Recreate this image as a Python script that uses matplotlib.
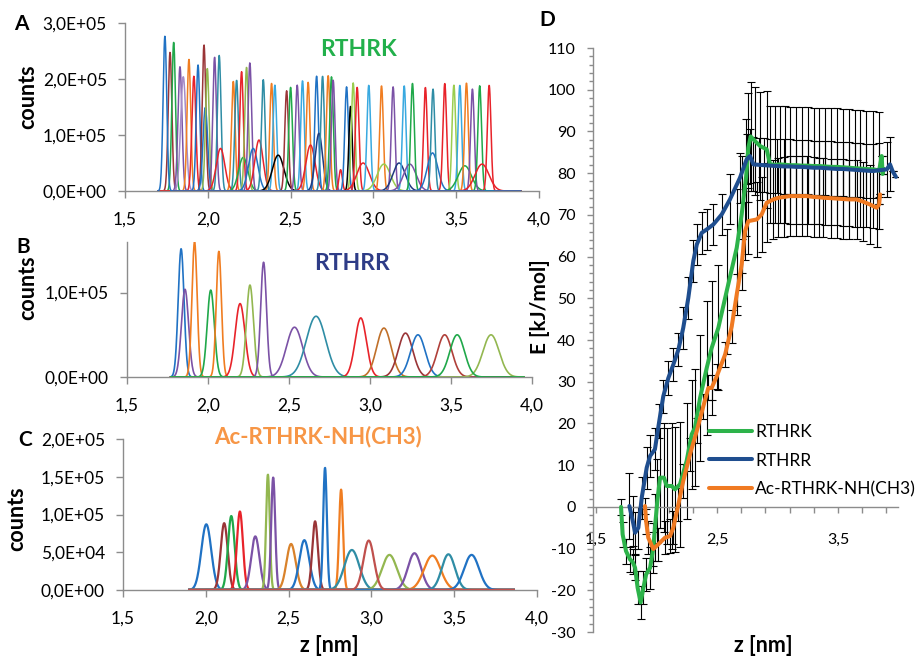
import numpy as np
import matplotlib
matplotlib.use('Agg')
import matplotlib.pyplot as plt
from matplotlib.ticker import FixedLocator

plt.rcParams['font.family'] = ['Lato', 'DejaVu Sans']

# ---------------- colours ----------------
BLUE = '#2072C4'; ORANGE = '#F07D21'; GREEN = '#20A84A'; RED = '#E8232A'
PURPLE = '#7B52A6'; BROWN = '#9A3537'; OLIVE = '#93B750'; TEAL = '#2F8DA5'
LBLUE = '#39A9E0'; NAVY = '#1F3A80'; BLACK = '#000000'; LGREEN = '#9ACD4F'
LILAC = '#A68BC8'; REDB = '#C0504D'

# ---------------- panel A data (RTHRK umbrella histograms) ----------------
A_centers = [1.741, 1.772, 1.794, 1.832, 1.852, 1.886, 1.916, 1.941, 1.977, 1.985,
             1.997, 2.041, 2.069, 2.077, 2.154, 2.174, 2.204, 2.214, 2.234, 2.254,
             2.274, 2.309, 2.335, 2.385, 2.405, 2.425, 2.476, 2.500, 2.540, 2.572,
             2.606, 2.620, 2.657, 2.671, 2.693, 2.727, 2.747, 2.757, 2.802, 2.838,
             2.862, 2.878, 2.902, 2.938, 2.972, 3.049, 3.063, 3.119, 3.155, 3.186,
             3.220, 3.236, 3.314, 3.357, 3.360, 3.431, 3.486, 3.522, 3.552, 3.562,
             3.598, 3.642, 3.656, 3.699]
A_heights = [2.77e5, 2.48e5, 2.66e5, 2.22e5, 2.04e5, 2.35e5, 2.05e5, 2.25e5, 2.61e5, 1.49e5,
             2.19e5, 2.39e5, 2.42e5, 0.76e5, 1.96e5, 1.98e5, 2.13e5, 0.60e5, 2.21e5, 2.29e5,
             0.76e5, 0.91e5, 1.99e5, 1.92e5, 1.89e5, 0.64e5, 1.79e5, 1.85e5, 1.89e5, 1.97e5,
             1.94e5, 0.82e5, 2.05e5, 1.03e5, 2.05e5, 2.06e5, 2.04e5, 1.98e5, 0.38e5, 1.86e5,
             1.51e5, 1.93e5, 1.85e5, 0.50e5, 1.89e5, 1.88e5, 0.48e5, 1.86e5, 0.50e5, 1.88e5,
             0.48e5, 1.92e5, 1.85e5, 0.68e5, 1.82e5, 1.92e5, 1.89e5, 1.89e5, 0.45e5, 1.93e5,
             1.82e5, 1.88e5, 0.48e5, 1.89e5]
A_widths = [0.011, 0.011, 0.011, 0.012, 0.016, 0.011, 0.012, 0.011, 0.011, 0.014,
            0.011, 0.011, 0.011, 0.026, 0.011, 0.011, 0.011, 0.028, 0.011, 0.011,
            0.028, 0.025, 0.011, 0.011, 0.011, 0.035, 0.011, 0.011, 0.011, 0.011,
            0.011, 0.028, 0.011, 0.022, 0.011, 0.011, 0.011, 0.011, 0.010, 0.011,
            0.010, 0.011, 0.011, 0.038, 0.011, 0.011, 0.040, 0.011, 0.037, 0.011,
            0.038, 0.011, 0.011, 0.032, 0.011, 0.011, 0.011, 0.011, 0.040, 0.011,
            0.011, 0.011, 0.042, 0.011]
A_colors = [BLUE, BROWN, GREEN, PURPLE, LILAC, ORANGE, RED, BLUE, BROWN, BLUE,
            OLIVE, PURPLE, TEAL, RED, ORANGE, TEAL, RED, GREEN, OLIVE, PURPLE,
            BLUE, RED, TEAL, ORANGE, LBLUE, BLACK, BROWN, GREEN, PURPLE, LBLUE,
            ORANGE, RED, BLUE, NAVY, TEAL, ORANGE, GREEN, PURPLE, RED, BLUE,
            BLACK, LGREEN, RED, RED, LBLUE, ORANGE, LGREEN, PURPLE, NAVY, LBLUE,
            PURPLE, GREEN, RED, BLUE, TEAL, RED, LGREEN, LBLUE, GREEN, ORANGE,
            PURPLE, GREEN, RED, RED]
A_range = (1.70, 3.89)

# ---------------- panel B data (RTHRR) ----------------
B_centers = [1.834, 1.858, 1.917, 2.017, 2.067, 2.198, 2.259, 2.343, 2.534, 2.667,
             2.943, 3.086, 3.219, 3.296, 3.461, 3.747, 3.538]
B_heights = [1.52e5, 1.04e5, 1.60e5, 1.03e5, 1.49e5, 0.87e5, 1.09e5, 1.36e5, 0.59e5, 0.72e5,
             0.70e5, 0.58e5, 0.52e5, 0.50e5, 0.50e5, 0.50e5, 0.50e5]
B_widths = [0.018, 0.022, 0.016, 0.022, 0.016, 0.030, 0.022, 0.018, 0.050, 0.060,
            0.035, 0.045, 0.045, 0.045, 0.045, 0.050, 0.045]
B_colors = [BLUE, PURPLE, ORANGE, GREEN, ORANGE, RED, OLIVE, PURPLE, PURPLE, TEAL,
            RED, '#C0702A', BROWN, BLUE, '#B0403A', OLIVE, GREEN]
B_range = (1.77, 3.95)

# ---------------- panel C data (Ac-RTHRK-NH(CH3)) ----------------
C_centers = [2.003, 2.111, 2.154, 2.206, 2.299, 2.375, 2.407, 2.515, 2.595, 2.660,
             2.720, 2.817, 2.882, 3.109, 3.260, 3.368, 3.465, 3.605, 2.984]
C_heights = [0.87e5, 0.885e5, 0.98e5, 1.04e5, 0.71e5, 1.53e5, 1.49e5, 0.61e5, 0.66e5, 0.91e5,
             1.62e5, 1.33e5, 0.53e5, 0.465e5, 0.487e5, 0.456e5, 0.473e5, 0.465e5, 0.655e5]
C_widths = [0.030, 0.021, 0.020, 0.018, 0.025, 0.011, 0.012, 0.028, 0.030, 0.017,
            0.011, 0.012, 0.045, 0.045, 0.040, 0.050, 0.040, 0.045, 0.032]
C_colors = [BLUE, BROWN, GREEN, RED, PURPLE, OLIVE, PURPLE, '#D9822B', BLUE, BROWN,
            BLUE, ORANGE, TEAL, OLIVE, PURPLE, ORANGE, TEAL, BLUE, REDB]
C_range = (1.90, 3.86)

# ---------------- panel D data (free energy profiles) ----------------
rthrk_z = [1.707, 1.720, 1.748, 1.781, 1.803, 1.823, 1.844, 1.869, 1.892, 1.914,
           1.947, 1.974, 1.987, 2.007, 2.029, 2.062, 2.084, 2.126, 2.153, 2.194,
           2.249, 2.291, 2.318, 2.360, 2.415, 2.456, 2.511, 2.580, 2.663, 2.704,
           2.740, 2.759, 2.778, 2.814, 2.856, 2.911, 2.938, 2.979, 3.021, 3.066,
           3.105, 3.154, 3.202, 3.250, 3.299, 3.347, 3.395, 3.444, 3.492, 3.540,
           3.589, 3.637, 3.685, 3.734, 3.792, 3.840, 3.861, 3.869, 3.879]
rthrk_E = [0.0, -6.6, -10.6, -12.6, -13.2, -14.6, -19.4, -22.9, -19.4, -16.2,
           -14.6, -9.8, -5.0, 1.4, 7.0, 7.0, 5.0, 5.0, 4.2, 5.4,
           11.0, 17.4, 19.0, 26.1, 33.3, 38.1, 42.9, 51.7, 62.1, 70.1,
           78.9, 86.1, 88.8, 87.7, 86.5, 85.7, 82.1, 82.0, 82.1, 82.0,
           81.9, 81.9, 81.8, 81.8, 81.7, 81.7, 81.6, 81.5, 81.5, 81.4,
           81.3, 81.2, 81.1, 81.0, 80.9, 80.6, 84.1, 79.8, 81.0]
rthrk_err = [2, 3, 3, 3, 3, 3, 4, 4, 4, 4,
             5, 6, 8, 10, 12, 13, 14, 15, 15, 15,
             14, 13, 14, 15, 16, 16, 15, 15, 14, 14,
             14, 13, 13, 13, 13, 14, 14, 14, 14, 14,
             14, 14, 14, 14, 14, 14, 14, 14, 14, 14,
             14, 14, 14, 14, 14, 14, 0, 0, 0]

rthrr_z = [1.776, 1.804, 1.823, 1.850, 1.878, 1.919, 1.947, 1.987, 2.023, 2.056,
           2.098, 2.139, 2.181, 2.221, 2.263, 2.304, 2.333, 2.374, 2.415, 2.470,
           2.539, 2.607, 2.690, 2.745, 2.773, 2.801, 2.844, 2.892, 2.941, 2.999,
           3.057, 3.105, 3.154, 3.202, 3.250, 3.299, 3.347, 3.395, 3.444, 3.492,
           3.540, 3.589, 3.637, 3.685, 3.734, 3.792, 3.840, 3.903, 3.930, 3.951, 3.979]
rthrr_E = [0.2, -3.4, -6.2, -5.0, 2.2, 9.4, 12.2, 13.8, 20.6, 26.5,
           30.9, 34.1, 37.7, 42.9, 50.1, 58.9, 62.9, 65.7, 66.5, 67.7,
           70.1, 73.7, 78.9, 83.3, 84.1, 82.1, 82.0, 81.9, 81.8, 81.7,
           81.6, 81.6, 81.5, 81.5, 81.4, 81.3, 81.3, 81.2, 81.1, 81.0,
           81.0, 80.9, 80.8, 80.7, 80.6, 80.5, 80.7, 80.9, 82.1, 80.5, 79.1]
rthrr_err = [8, 6, 5, 5, 5, 5, 5, 5, 4, 4,
             4, 4, 4, 5, 5, 5, 5, 5, 5, 5,
             5, 6, 6, 6, 6.5, 6.5, 6.5, 6.5, 6.5, 6.5,
             6.5, 6.5, 6.5, 6.5, 6.5, 6.5, 6.5, 6.5, 6.5, 6.5,
             6.5, 6.5, 6.5, 6.5, 6.5, 6.5, 6.5, 6.5, 6.5, 0, 0]

ac_z = [1.905, 1.914, 1.932, 1.974, 2.014, 2.070, 2.112, 2.139, 2.181, 2.221,
        2.277, 2.333, 2.387, 2.428, 2.456, 2.498, 2.567, 2.622, 2.663, 2.704,
        2.732, 2.759, 2.829, 2.869, 2.911, 2.966, 3.008, 3.057, 3.103, 3.154,
        3.202, 3.241, 3.299, 3.347, 3.379, 3.444, 3.492, 3.540, 3.589, 3.654,
        3.705, 3.763, 3.820, 3.840, 3.848]
ac_E = [0.2, -3.4, -7.4, -10.1, -9.0, -7.4, -7.0, -5.0, 0.6, 6.2,
        12.6, 18.2, 24.1, 28.5, 28.5, 31.3, 36.5, 43.3, 50.9, 58.1,
        66.1, 68.5, 68.9, 70.1, 72.9, 73.7, 74.1, 74.3, 74.5, 74.5,
        74.5, 74.5, 74.3, 74.2, 74.1, 74.0, 73.9, 73.8, 73.7, 73.7,
        73.2, 72.5, 71.7, 72.5, 74.9]
ac_err = [2, 3, 4, 4, 4, 4, 4, 4, 4, 4,
          4, 3, 3, 3, 3, 3, 3, 4, 5, 6,
          7, 8, 9, 9, 9.5, 9.5, 9.5, 9.5, 9.5, 9.5,
          9.5, 9.5, 9.5, 9.5, 9.5, 9.5, 9.5, 9.5, 9.5, 9.5,
          9.5, 9.5, 9.5, 0, 0]

D_names = ['RTHRK', 'RTHRR', 'Ac-RTHRK-NH(CH3)']
D_colors = ['#2DB34A', '#1F4E8F', '#F07A22']

# ---------------- tick labels ----------------
hist_xticks = [1.5, 2.0, 2.5, 3.0, 3.5, 4.0]
hist_xlabels = ['1,5', '2,0', '2,5', '3,0', '3,5', '4,0']
A_yticks = [0, 1e5, 2e5, 3e5]
A_ylabels = ['0,0E+00', '1,0E+05', '2,0E+05', '3,0E+05']
B_yticks = [0, 1e5]
B_ylabels = ['0,0E+00', '1,0E+05']
C_yticks = [0, 5e4, 1e5, 1.5e5, 2e5]
C_ylabels = ['0,0E+00', '5,0E+04', '1,0E+05', '1,5E+05', '2,0E+05']
D_yticks = list(range(-30, 111, 10))
D_ylabels = [str(v) for v in D_yticks]
D_xticks = [1.5, 2.5, 3.5]
D_xlabels = ['1,5', '2,5', '3,5']
D_xminor = [1.7, 1.9, 2.1, 2.3, 2.7, 2.9, 3.1, 3.3, 3.7, 3.9]

# ---------------- figure ----------------
W, H = 919, 662
fig = plt.figure(figsize=(W / 100, H / 100), dpi=100)
GREY = '#8C8C8C'
TFS = 12.5


def add_ax(l, t, r, b):
    return fig.add_axes([l / W, 1 - b / H, (r - l) / W, (b - t) / H])


def style(ax):
    for s in ('top', 'right'):
        ax.spines[s].set_visible(False)
    for s in ('left', 'bottom'):
        ax.spines[s].set_color(GREY)
        ax.spines[s].set_linewidth(1.0)
    ax.tick_params(colors=GREY, labelcolor='black', labelsize=TFS, length=5, width=1.0)
    ax.patch.set_alpha(0)


def hist_panel(ax, centers, heights, widths, colors, zr, lw):
    z = np.linspace(zr[0], zr[1], 1200)
    n = len(centers)
    for i, (c, h, w, col) in enumerate(zip(centers, heights, widths, colors)):
        y = h * np.exp(-0.5 * ((z - c) / w) ** 2)
        ax.plot(z, y, color=col, lw=lw, zorder=2 + (i == n - 1) * 5)
    ax.set_xlim(1.5, 4.0)
    ax.xaxis.set_major_locator(FixedLocator(hist_xticks))
    ax.set_xticklabels(hist_xlabels)
    style(ax)
    ax.tick_params(axis='x', pad=10)
    ax.tick_params(axis='y', pad=8)


# Panel A
axA = add_ax(125, 23, 539, 191)
orderA = list(range(1, len(A_centers))) + [0]
hist_panel(axA, [A_centers[i] for i in orderA], [A_heights[i] for i in orderA],
           [A_widths[i] for i in orderA], [A_colors[i] for i in orderA], A_range, 1.1)
axA.set_ylim(0, 3e5)
axA.yaxis.set_major_locator(FixedLocator(A_yticks))
axA.set_yticklabels(A_ylabels)

# Panel B
axB = add_ax(127, 242, 532, 377)
hist_panel(axB, B_centers, B_heights, B_widths, B_colors, B_range, 1.2)
axB.set_ylim(0, 1.6e5)
axB.yaxis.set_major_locator(FixedLocator(B_yticks))
axB.set_yticklabels(B_ylabels)

# Panel C
axC = add_ax(123, 439, 537, 590)
hist_panel(axC, C_centers, C_heights, C_widths, C_colors, C_range, 1.6)
axC.set_ylim(0, 2e5)
axC.yaxis.set_major_locator(FixedLocator(C_yticks))
axC.set_yticklabels(C_ylabels)

# Panel D
axD = add_ax(593, 48, 898, 632)
series = [(rthrk_z, rthrk_E, rthrk_err), (rthrr_z, rthrr_E, rthrr_err), (ac_z, ac_E, ac_err)]
for (zz, ee, er) in series:
    axD.errorbar(zz, ee, yerr=er, fmt='none', ecolor='black', elinewidth=0.8,
                 capsize=2.6, capthick=0.8, zorder=2)
for (zz, ee, er), name, col in zip(series, D_names, D_colors):
    axD.plot(zz, ee, color=col, lw=2.9, label=name, zorder=4,
             solid_capstyle='round', solid_joinstyle='round')
axD.set_xlim(1.4752, 3.996)
axD.set_ylim(-30, 110)
style(axD)
axD.spines['bottom'].set_position(('data', 0))
axD.xaxis.set_major_locator(FixedLocator(D_xticks))
axD.set_xticklabels(D_xlabels)
axD.xaxis.set_minor_locator(FixedLocator(D_xminor))
axD.yaxis.set_major_locator(FixedLocator(D_yticks))
axD.set_yticklabels(D_ylabels)
axD.yaxis.set_minor_locator(FixedLocator([v for v in range(-30, 111, 2) if v % 10]))
axD.tick_params(axis='both', which='both', colors=GREY, labelcolor='black', length=4.5, width=1.0)
axD.tick_params(axis='both', which='major', labelsize=11.5)
axD.tick_params(axis='x', which='major', pad=14)
axD.tick_params(axis='y', which='both', pad=8)
axD.tick_params(axis='y', which='minor', length=3)
leg = axD.legend(loc='upper left', bbox_to_anchor=(709 / W, 1 - 424 / H),
                 bbox_transform=fig.transFigure, frameon=False, fontsize=12.5,
                 handlelength=2.5, handletextpad=0.15, labelspacing=0.72,
                 borderpad=0, borderaxespad=0)

# ---------------- texts ----------------
def ftext(x, y, s, **kw):
    fig.text(x / W, 1 - y / H, s, ha='center', va='center', **kw)

ftext(21, 24, 'A', fontsize=15, fontweight='bold')
ftext(23, 247, 'B', fontsize=15, fontweight='bold')
ftext(25, 440, 'C', fontsize=15, fontweight='bold')
ftext(547, 20, 'D', fontsize=15, fontweight='bold')

ftext(358, 50, 'RTHRK', fontsize=16.5, fontweight='bold', color='#22B04B')
ftext(352, 263, 'RTHRR', fontsize=16.5, fontweight='bold', color='#2E3C87')
ftext(318, 437, 'Ac-RTHRK-NH(CH3)', fontsize=16, fontweight='bold', color='#F79646')

ftext(28, 97, 'counts', fontsize=15.5, fontweight='bold', rotation=90)
ftext(28, 288, 'counts', fontsize=15.5, fontweight='bold', rotation=90)
ftext(17, 519, 'counts', fontsize=15.5, fontweight='bold', rotation=90)
ftext(540, 307, 'E [kJ/mol]', fontsize=15, fontweight='bold', rotation=90)
ftext(329, 646, 'z [nm]', fontsize=15.5, fontweight='bold')
ftext(763, 645, 'z [nm]', fontsize=15.5, fontweight='bold')

fig.savefig('out.png', dpi=100)
